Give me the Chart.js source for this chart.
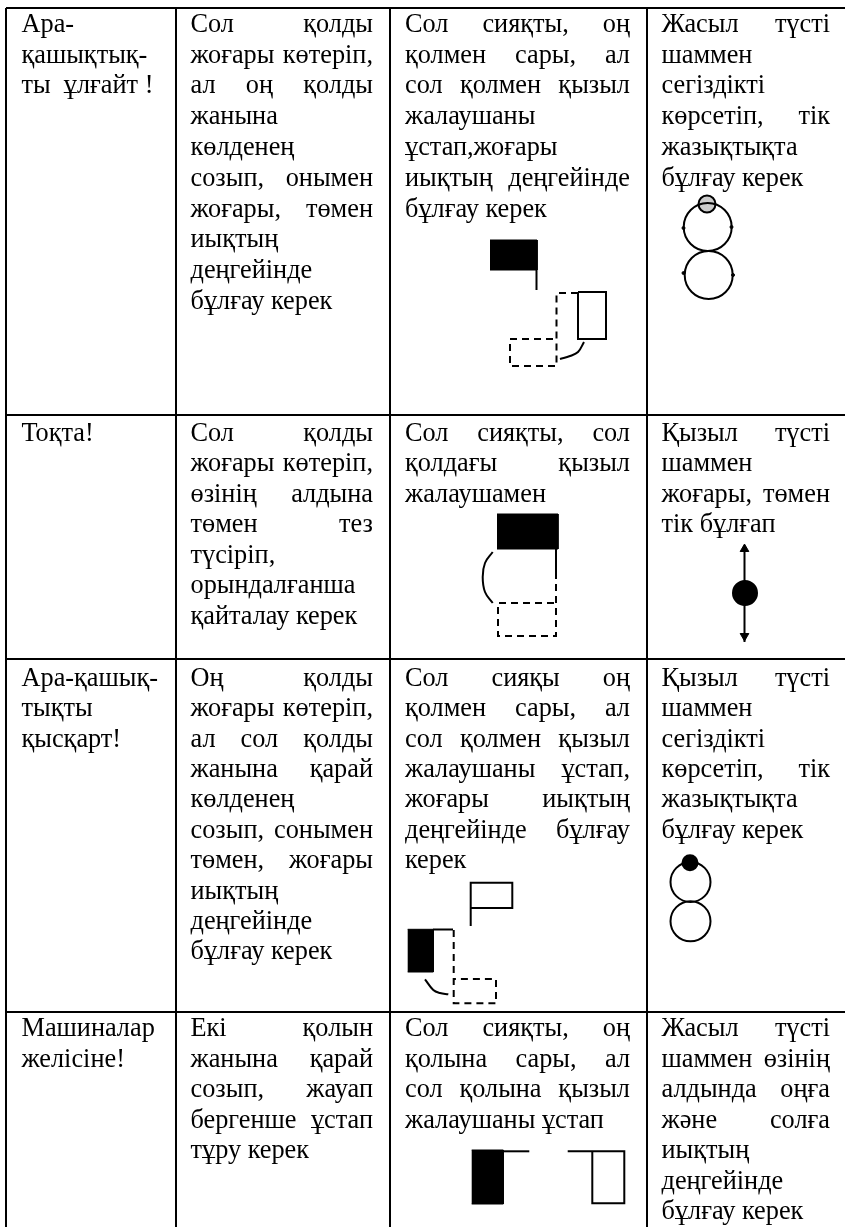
<!DOCTYPE html>
<html><head><meta charset="utf-8">
<script src="https://cdn.jsdelivr.net/npm/chart.js@4/dist/chart.umd.min.js"></script>
<style>
html,body{margin:0;padding:0;background:#fff}
#wrap{position:relative;width:845px;height:1227px;overflow:hidden}
canvas{position:absolute;left:0;top:0}
.t{position:absolute;font-family:"Liberation Serif",serif;font-size:26.3px;line-height:24px;color:#000;white-space:nowrap}
.j{white-space:normal;text-align:justify;text-align-last:justify}
</style></head><body>
<div id="wrap"><canvas id="c" width="845" height="1227"></canvas></div>
<script>
// Table text; a leading "|" marks a justified line
const row1Col1=["Ара-","қашықтық-","ты  ұлғайт !"];
const row1Col2=["|Сол қолды","|жоғары көтеріп,","|ал оң қолды","жанына","көлденең","|созып, онымен","|жоғары, төмен","иықтың","деңгейінде","бұлғау керек"];
const row1Col3=["|Сол сияқты, оң","|қолмен сары, ал","|сол қолмен қызыл","жалаушаны","ұстап,жоғары","|иықтың деңгейінде","бұлғау керек"];
const row1Col4=["|Жасыл түсті","шаммен","сегіздікті","|көрсетіп, тік","жазықтықта","бұлғау керек"];
const row2Col1=["Тоқта!"];
const row2Col2=["|Сол қолды","|жоғары көтеріп,","|өзінің алдына","|төмен тез","түсіріп,","орындалғанша","қайталау керек"];
const row2Col3=["|Сол сияқты, сол","|қолдағы қызыл","жалаушамен"];
const row2Col4=["|Қызыл түсті","шаммен","|жоғары, төмен","тік бұлғап"];
const row3Col1=["Ара-қашық-","тықты","қысқарт!"];
const row3Col2=["|Оң қолды","|жоғары көтеріп,","|ал сол қолды","|жанына қарай","көлденең","|созып, сонымен","|төмен, жоғары","иықтың","деңгейінде","бұлғау керек"];
const row3Col3=["|Сол сияқы оң","|қолмен сары, ал","|сол қолмен қызыл","|жалаушаны ұстап,","|жоғары иықтың","|деңгейінде бұлғау","керек"];
const row3Col4=["|Қызыл түсті","шаммен","сегіздікті","|көрсетіп, тік","жазықтықта","бұлғау керек"];
const row4Col1=["Машиналар","желісіне!"];
const row4Col2=["|Екі қолын","|жанына қарай","|созып, жауап","|бергенше ұстап","тұру керек"];
const row4Col3=["|Сол сияқты, оң","|қолына сары, ал","|сол қолына қызыл","жалаушаны ұстап"];
const row4Col4=["|Жасыл түсті","|шаммен өзінің","|алдында оңға","|және солға","иықтың","деңгейінде","бұлғау керек"];
const tableText=[[row1Col1,row1Col2,row1Col3,row1Col4],[row2Col1,row2Col2,row2Col3,row2Col4],[row3Col1,row3Col2,row3Col3,row3Col4],[row4Col1,row4Col2,row4Col3,row4Col4]];

// Rule positions (page units)
const colRules=[6,176,390,647];
const rowRules=[8,415,659,1012];
const tableRight=845;
const tableBottom=1227;

// Sketches: polylines
const fig1Flag=[[490,240],[537,240],[537,270],[490,270]];
const fig1Pole=[[536.5,240],[536.5,290]];
const fig1Rect=[[578,292],[606,292],[606,339],[578,339],[578,292]];
const fig1Dash=[[578,293],[556.5,293],[556.5,366],[510,366],[510,339],[556.5,339]];
const fig1Arc=[[584,342],[578,352],[570,356],[560,359]];
const fig2Flag=[[497,514],[558,514],[558,549],[497,549]];
const fig2Pole=[[556,549],[556,572]];
const fig2Dash=[[556,572],[556,636],[498,636],[498,603],[556,603]];
const fig2Arc=[[492.7,552],[485,563],[482.7,577],[485,592],[492.7,603]];
const fig3Flag=[[407.7,929.3],[433.3,929.3],[433.3,972],[407.7,972]];
const fig3Line=[[433,929.5],[453,929.5]];
const fig3Dash=[[453.7,930],[453.7,1003.3],[496,1003.3],[496,979],[453.7,979]];
const fig3Arc=[[425,979.3],[433.3,990],[440,993],[448.3,994.3]];
const fig3White=[[470.7,926],[470.7,882.7],[512.3,882.7],[512.3,908],[470.7,908]];
const fig4Flag=[[471.7,1150],[503.3,1150],[503.3,1204],[471.7,1204]];
const fig4Line=[[503,1151.3],[529.3,1151.3]];
const fig4White=[[567.7,1151.3],[624.3,1151.3],[624.3,1203.3],[592.3,1203.3],[592.3,1151.3]];
const sig2Pole=[[744.5,546],[744.5,642]];

// Signal lamps and loops: [x, y]
const sig1Loops=[[707.7,227],[708.7,275]];
const sig1Lamp=[[707,204]];
const sig1Ticks=[[683.5,228],[731.5,227],[683.5,273],[733,275]];
const sig1Hatch=[[703,199],[712,208]];
const sig1Hatch2=[[701,203],[709,211]];
const sig2Lamp=[[745,593]];
const sig3Loops=[[690.5,882],[690.5,921.3]];
const sig3Lamp=[[690,862.7]];
const sig2ArrowUp=[[744.5,549]];
const sig2ArrowDown=[[744.5,636]];

const pts=a=>a.map(p=>({x:p[0],y:p[1]}));
const line=(a,w=2,dash,color='#000',tension=0)=>({data:pts(a),borderColor:color,borderWidth:w,borderDash:dash||[],pointRadius:0,fill:false,tension});
const arc=a=>line(a,2,null,'#000',0.4);
const solid=a=>({data:pts(a),borderColor:'#000',backgroundColor:'#000',borderWidth:1,pointRadius:0,fill:'shape',tension:0});
const dots=(a,r,bg,style='circle',rot=0,w=2)=>({data:pts(a),showLine:false,pointRadius:r,pointHoverRadius:r,pointStyle:style,rotation:rot,pointBackgroundColor:bg,pointBorderColor:'#000',pointBorderWidth:w,fill:false});

const rules=[];
colRules.forEach(x=>rules.push(line([[x,rowRules[0]],[x,tableBottom]],2)));
rowRules.forEach(y=>rules.push(line([[colRules[0],y],[tableRight,y]],2)));

const dash=[7,5];
new Chart(document.getElementById('c'),{
  type:'line',
  data:{datasets:[...rules,
    solid(fig1Flag),line(fig1Pole),line(fig1Rect),line(fig1Dash,2,dash),arc(fig1Arc),
    solid(fig2Flag),line(fig2Pole),line(fig2Dash,2,dash),arc(fig2Arc),
    solid(fig3Flag),line(fig3Line),line(fig3Dash,2,dash),arc(fig3Arc),line(fig3White),
    solid(fig4Flag),line(fig4Line),line(fig4White),
    line(sig2Pole),
    dots(sig1Loops,24,'rgba(0,0,0,0)'),dots(sig1Ticks,1.5,'#000','circle',0,1),dots(sig1Lamp,8.5,'#ccc'),
    line(sig1Hatch,1,null,'#555'),line(sig1Hatch2,1,null,'#555'),
    dots(sig2Lamp,12,'#000'),dots(sig2ArrowUp,5,'#000','triangle',0,1),dots(sig2ArrowDown,5,'#000','triangle',180,1),
    dots(sig3Loops,20,'rgba(0,0,0,0)'),dots(sig3Lamp,7.5,'#000')
  ]},
  options:{
    responsive:false,animation:false,
    layout:{padding:0,autoPadding:false},
    plugins:{legend:{display:false},tooltip:{enabled:false}},
    scales:{
      x:{type:'linear',min:0,max:845,display:false},
      y:{type:'linear',min:0,max:1227,reverse:true,display:false}
    }
  }
});

// Text layout
const colLeft=[21.5,190.5,405,661.5];
const colRight=[165,373,630,830];
const rowFirstLine=[11.8,420.8,665.8,1016.4];
const rowStep=[30.8,30.5,30.4,30.5];
const wrap=document.getElementById('wrap');
tableText.forEach((row,r)=>row.forEach((cell,c)=>cell.forEach((s,i)=>{
  const d=document.createElement('div');
  const j=s[0]==='|';
  d.className='t'+(j?' j':'');
  d.textContent=j?s.slice(1):s;
  d.style.left=colLeft[c]+'px';
  d.style.top=(rowFirstLine[r]+i*rowStep[r])+'px';
  if(j)d.style.width=(colRight[c]-colLeft[c])+'px';
  else d.style.whiteSpace='pre';
  wrap.appendChild(d);
})));
</script></body></html>
